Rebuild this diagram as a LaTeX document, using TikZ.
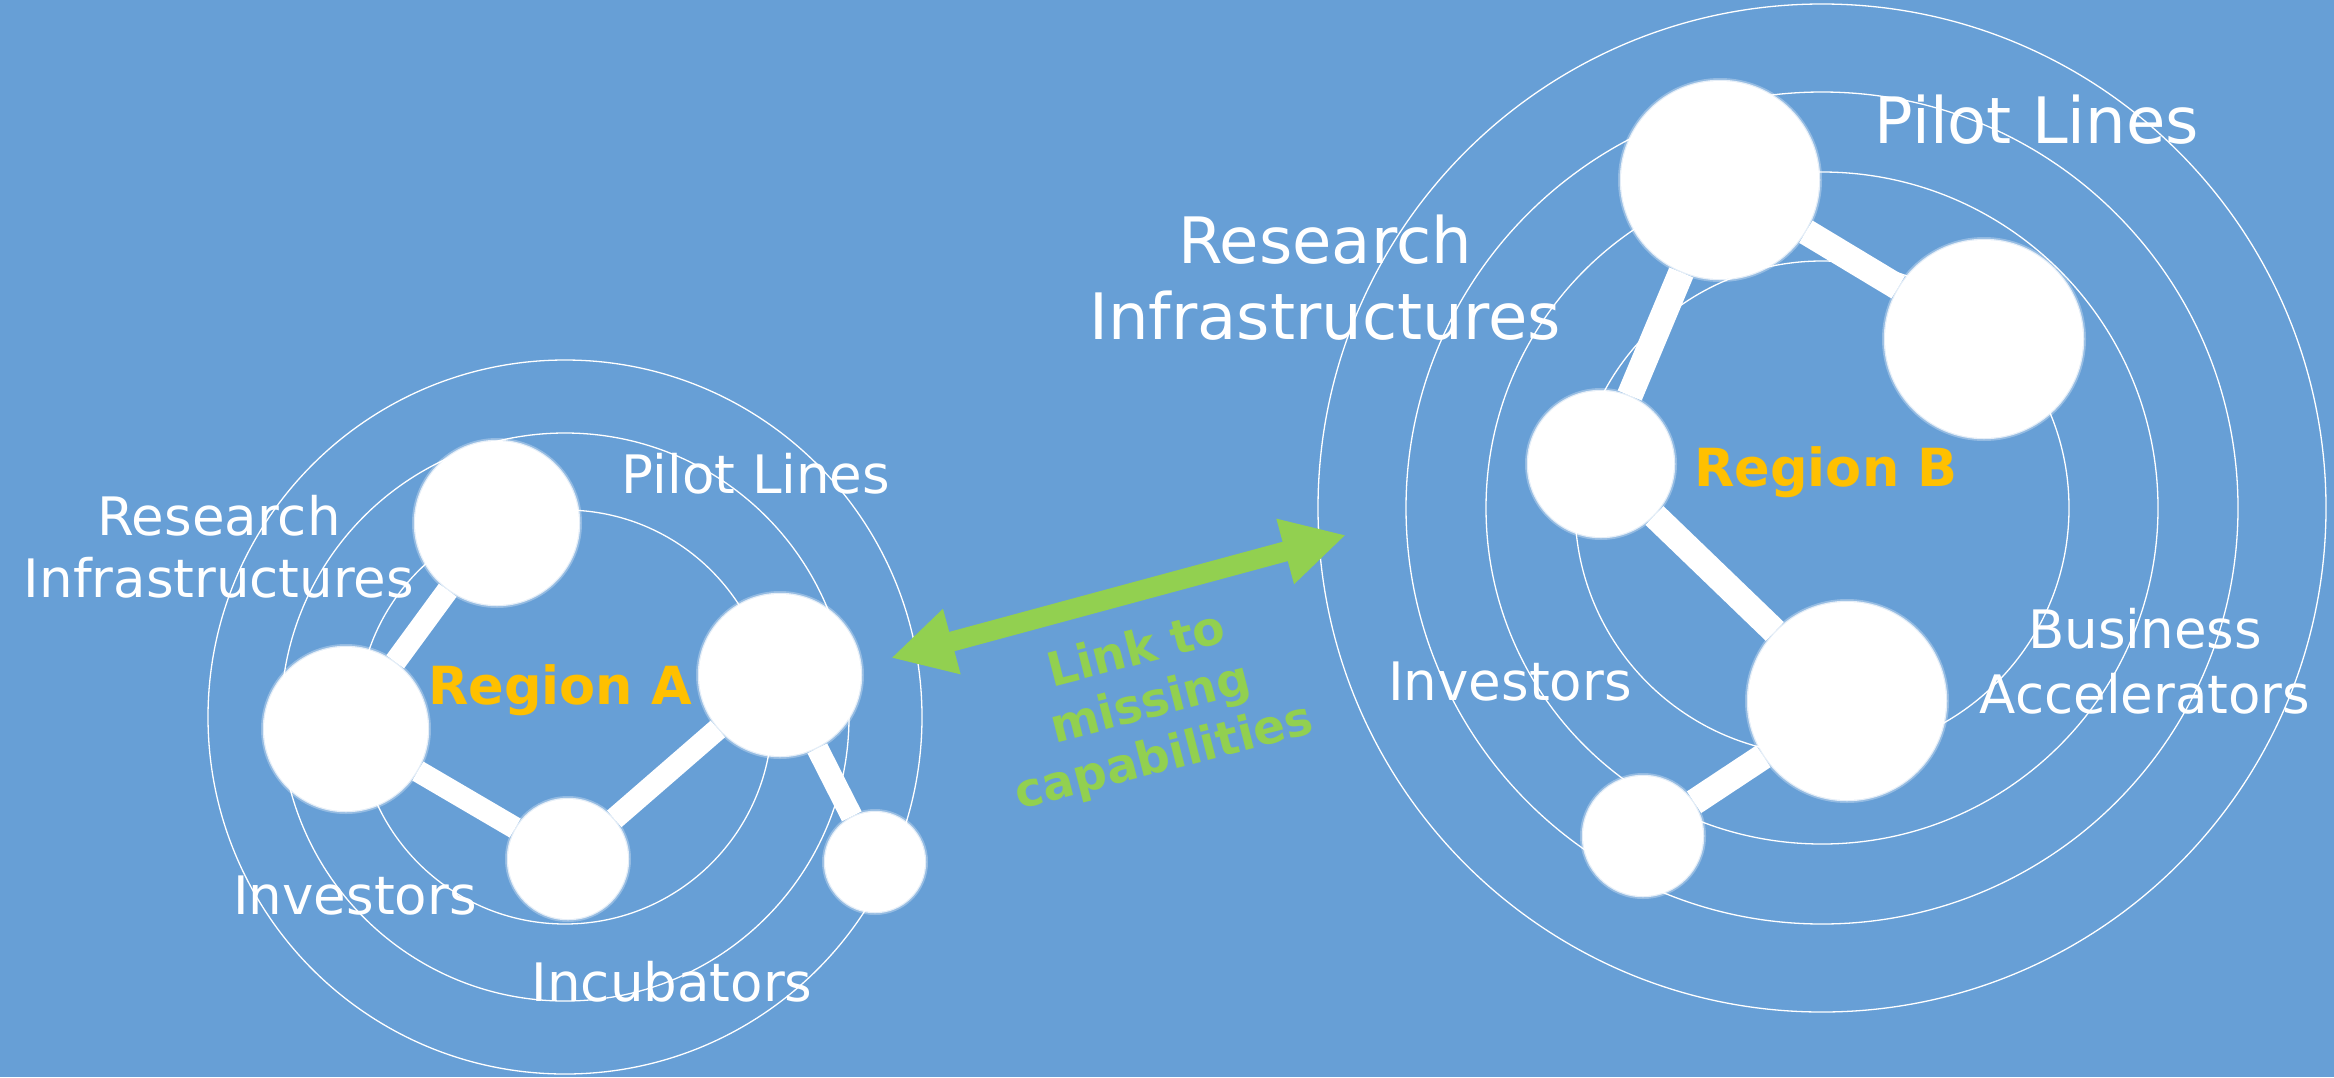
\documentclass[tikz,border=0pt]{standalone}
\usepackage{fontspec}
\setmainfont{DejaVu Sans}
\usetikzlibrary{arrows.meta}
\definecolor{bgblue}{RGB}{103,159,214}
\definecolor{linkgreen}{RGB}{146,208,80}
\definecolor{regiongold}{RGB}{255,192,0}
\begin{document}
\begin{tikzpicture}[x=1pt,y=-1pt,
  ring/.style={draw=white, line width=1.3pt},
  blob/.style={circle, fill=white, draw=white, draw opacity=0.75, line width=2.5pt, inner sep=0pt, minimum size=#1,
    preaction={draw=white, draw opacity=0.3, line width=6pt}},
  barA/.style={white, line width=22pt},
  barB/.style={white, line width=26pt},
  lab/.style={text=white, font=\fontsize{53}{64}\selectfont, align=center, inner sep=0pt},
  labbig/.style={text=white, font=\fontsize{64}{76}\selectfont, align=center, inner sep=0pt},
  region/.style={text=regiongold, font=\bfseries\fontsize{52.5}{60}\selectfont, inner sep=0pt},
  linktext/.style={text=linkgreen, font=\bfseries\fontsize{47}{55}\selectfont, align=center, inner sep=0pt},
  linkarrow/.style={draw=linkgreen, line width=20pt, {Triangle[length=63pt,width=63pt]}-{Triangle[length=63pt,width=63pt]}}
]
\useasboundingbox (0,0) rectangle (2334,1077);
\fill[bgblue] (0,0) rectangle (2334,1077);

% ---------- Region A ----------
\coordinate (cA) at (565,717);
\draw[ring] (cA) circle[radius=357];
\draw[ring] (cA) circle[radius=284];
\draw[ring] (cA) circle[radius=207];

\node[blob=164pt] (a1) at (497,523) {};
\node[blob=164pt] (a2) at (346,729) {};
\node[blob=120pt] (a3) at (568,859) {};
\node[blob=162pt] (a4) at (780,675) {};
\node[blob=100pt] (a5) at (875,862) {};
\draw[barA] (a1) -- (a2);
\draw[barA] (a2) -- (a3);
\draw[barA] (a3) -- (a4);
\draw[barA] (a4) -- (a5);

\node[lab, font=\fontsize{53}{62}\selectfont] (aRI) at (219,546.5) {Research\\Infrastructures};
\node[lab, anchor=base] (aPL) at (756,493) {Pilot Lines};
\node[lab, anchor=base] (aInv) at (355,914.5) {Investors};
\node[lab, anchor=base] (aInc) at (672,1001) {Incubators};
\node[region, anchor=base] (aReg) at (560,704) {Region A};

% ---------- Region B ----------
\coordinate (cB) at (1822,508);
\draw[ring] (cB) circle[radius=504];
\draw[ring] (cB) circle[radius=416];
\draw[ring] (cB) circle[radius=336];
\draw[ring] (cB) circle[radius=247];

\node[blob=198pt] (b1) at (1720,180) {};
\node[blob=198pt] (b2) at (1984,339) {};
\node[blob=146pt] (b3) at (1601,464) {};
\node[blob=198pt] (b4) at (1847,701) {};
\node[blob=120pt] (b5) at (1643,836) {};
\draw[barB] (b1) -- (b2);
\draw[barB] (b1) -- (b3);
\draw[barB] (b3) -- (b4);
\draw[barB] (b4) -- (b5);

\node[labbig, anchor=base] (bPL) at (2037,143) {Pilot Lines};
\node[labbig] (bRI) at (1325,277.7) {Research\\Infrastructures};
\node[lab, anchor=base] (bInv) at (1510,700.5) {Investors};
\node[lab, font=\fontsize{53}{65}\selectfont] (bBA) at (2145,661.4) {Business\\Accelerators};
\node[region, anchor=base] (bReg) at (1826,486) {Region B};

% ---------- Link ----------
\coordinate (arrL) at (891,658);
\coordinate (arrR) at (1346,535);
\draw[linkarrow] (arrL) -- (arrR);
\node[linktext, rotate=14.5] (link) at (1150.7,705) {Link to\\missing\\capabilities};
\end{tikzpicture}
\end{document}
